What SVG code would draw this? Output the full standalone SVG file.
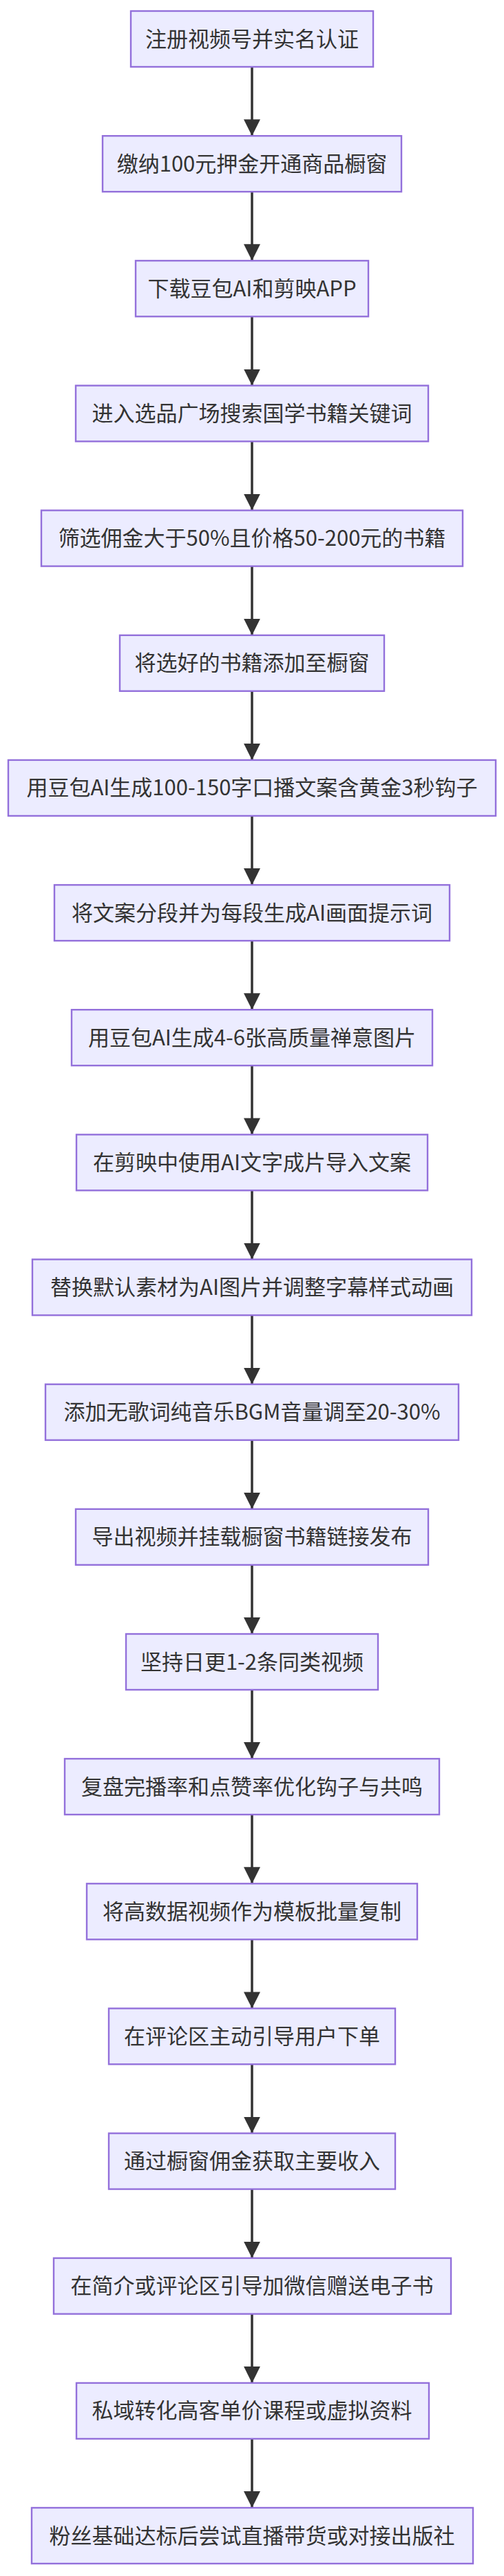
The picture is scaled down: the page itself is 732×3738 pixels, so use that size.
<svg xmlns="http://www.w3.org/2000/svg" width="732" height="3738" viewBox="0 0 732 3738">
<style>
.n rect{fill:#ECECFF;stroke:#9370DB;stroke-width:2.4}
.n text{font-family:"Noto Sans CJK SC","Liberation Sans",sans-serif;font-size:31px;fill:#333;text-anchor:middle}
.e line{stroke:#333;stroke-width:3.5;marker-end:url(#a)}
</style>
<defs><marker id="a" markerUnits="userSpaceOnUse" markerWidth="24" markerHeight="24" viewBox="0 0 24 24" refX="24" refY="12" orient="auto"><path d="M0,0L24,12L0,24z" fill="#333"/></marker></defs>
<g class="e">
<line x1="366" y1="97" x2="366" y2="197.2"/>
<line x1="366" y1="278.2" x2="366" y2="378.3"/>
<line x1="366" y1="459.3" x2="366" y2="559.5"/>
<line x1="366" y1="640.5" x2="366" y2="740.6"/>
<line x1="366" y1="821.6" x2="366" y2="921.8"/>
<line x1="366" y1="1002.8" x2="366" y2="1102.9"/>
<line x1="366" y1="1183.9" x2="366" y2="1284.1"/>
<line x1="366" y1="1365.1" x2="366" y2="1465.2"/>
<line x1="366" y1="1546.2" x2="366" y2="1646.4"/>
<line x1="366" y1="1727.4" x2="366" y2="1827.5"/>
<line x1="366" y1="1908.5" x2="366" y2="2008.7"/>
<line x1="366" y1="2089.7" x2="366" y2="2189.8"/>
<line x1="366" y1="2270.8" x2="366" y2="2371"/>
<line x1="366" y1="2452" x2="366" y2="2552.1"/>
<line x1="366" y1="2633.1" x2="366" y2="2733.3"/>
<line x1="366" y1="2814.3" x2="366" y2="2914.4"/>
<line x1="366" y1="2995.4" x2="366" y2="3095.6"/>
<line x1="366" y1="3176.6" x2="366" y2="3276.7"/>
<line x1="366" y1="3357.7" x2="366" y2="3457.9"/>
<line x1="366" y1="3538.9" x2="366" y2="3639"/>
</g>
<g id="n1" class="n"><rect x="190" y="16" width="352" height="81"/><text x="366" y="67.5">注册视频号并实名认证</text></g>
<g id="n2" class="n"><rect x="149" y="197.2" width="434" height="81"/><text x="366" y="248.7">缴纳100元押金开通商品橱窗</text></g>
<g id="n3" class="n"><rect x="197" y="378.3" width="338" height="81"/><text x="366" y="429.8">下载豆包AI和剪映APP</text></g>
<g id="n4" class="n"><rect x="110" y="559.5" width="512" height="81"/><text x="366" y="611">进入选品广场搜索国学书籍关键词</text></g>
<g id="n5" class="n"><rect x="60" y="740.6" width="612" height="81"/><text x="366" y="792.1">筛选佣金大于50%且价格50-200元的书籍</text></g>
<g id="n6" class="n"><rect x="174" y="921.8" width="384" height="81"/><text x="366" y="973.3">将选好的书籍添加至橱窗</text></g>
<g id="n7" class="n"><rect x="12" y="1102.9" width="708" height="81"/><text x="366" y="1154.4">用豆包AI生成100-150字口播文案含黄金3秒钩子</text></g>
<g id="n8" class="n"><rect x="79" y="1284.1" width="574" height="81"/><text x="366" y="1335.6">将文案分段并为每段生成AI画面提示词</text></g>
<g id="n9" class="n"><rect x="104" y="1465.2" width="524" height="81"/><text x="366" y="1516.7">用豆包AI生成4-6张高质量禅意图片</text></g>
<g id="n10" class="n"><rect x="111" y="1646.4" width="510" height="81"/><text x="366" y="1697.9">在剪映中使用AI文字成片导入文案</text></g>
<g id="n11" class="n"><rect x="47" y="1827.5" width="638" height="81"/><text x="366" y="1879">替换默认素材为AI图片并调整字幕样式动画</text></g>
<g id="n12" class="n"><rect x="66" y="2008.7" width="600" height="81"/><text x="366" y="2060.2">添加无歌词纯音乐BGM音量调至20-30%</text></g>
<g id="n13" class="n"><rect x="110" y="2189.8" width="512" height="81"/><text x="366" y="2241.3">导出视频并挂载橱窗书籍链接发布</text></g>
<g id="n14" class="n"><rect x="183" y="2371" width="366" height="81"/><text x="366" y="2422.5">坚持日更1-2条同类视频</text></g>
<g id="n15" class="n"><rect x="94" y="2552.1" width="544" height="81"/><text x="366" y="2603.6">复盘完播率和点赞率优化钩子与共鸣</text></g>
<g id="n16" class="n"><rect x="126" y="2733.3" width="480" height="81"/><text x="366" y="2784.8">将高数据视频作为模板批量复制</text></g>
<g id="n17" class="n"><rect x="158" y="2914.4" width="416" height="81"/><text x="366" y="2965.9">在评论区主动引导用户下单</text></g>
<g id="n18" class="n"><rect x="158" y="3095.6" width="416" height="81"/><text x="366" y="3147.1">通过橱窗佣金获取主要收入</text></g>
<g id="n19" class="n"><rect x="78" y="3276.7" width="577" height="81"/><text x="366" y="3328.2">在简介或评论区引导加微信赠送电子书</text></g>
<g id="n20" class="n"><rect x="111" y="3457.9" width="512" height="81"/><text x="366" y="3509.4">私域转化高客单价课程或虚拟资料</text></g>
<g id="n21" class="n"><rect x="46" y="3639" width="641" height="81"/><text x="366" y="3690.5">粉丝基础达标后尝试直播带货或对接出版社</text></g>
</svg>
